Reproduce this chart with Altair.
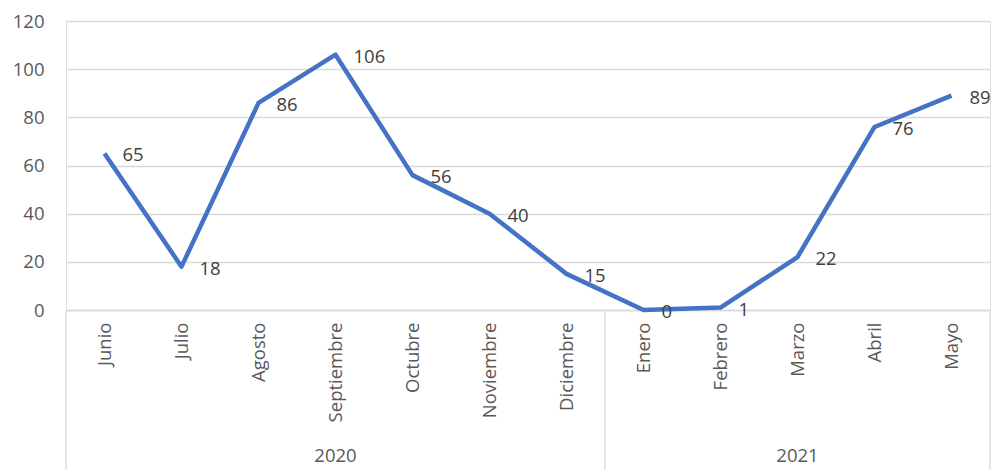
import altair as alt
import pandas as pd

months = ["Junio", "Julio", "Agosto", "Septiembre", "Octubre", "Noviembre",
          "Diciembre", "Enero", "Febrero", "Marzo", "Abril", "Mayo"]
values = [65, 18, 86, 106, 56, 40, 15, 0, 1, 22, 76, 89]
years = ["2020", "2021"]
year_counts = [7, 5]

df = pd.DataFrame({"mes": months, "valor": values})

# group boundaries and centers derived from counts
bounds = [0]
for c in year_counts:
    bounds.append(bounds[-1] + c)
centers = [(bounds[i] + bounds[i + 1]) / 2 for i in range(len(years))]
df_bounds = pd.DataFrame({"b": bounds})
df_years = pd.DataFrame({"anio": years, "c": centers})

FONT = "Open Sans"
W, H = 924, 289
TOP = 13
BOTTOM = 160

x = alt.X("mes:N", sort=months,
          scale=alt.Scale(type="point", padding=0.5),
          axis=alt.Axis(title=None, labelAngle=-90, labelAlign="right",
                        labelBaseline="middle", labelPadding=12,
                        ticks=False, grid=False, domain=True,
                        domainColor="#d9d9d9", domainWidth=1.3,
                        labelFont=FONT, labelFontSize=18.5, labelColor="#595959"))
y = alt.Y("valor:Q",
          scale=alt.Scale(domain=[0, 120], nice=False),
          axis=alt.Axis(title=None, values=[0, 20, 40, 60, 80, 100, 120],
                        domain=False, ticks=False, labelPadding=22,
                        gridColor="#d9d9d9", gridWidth=1.3,
                        labelFont=FONT, labelFontSize=18.5, labelColor="#595959"))

line = alt.Chart(df).mark_line(color="#4472C4", strokeWidth=4.5,
                               strokeJoin="round", strokeCap="butt").encode(x=x, y=y)
labels = alt.Chart(df).mark_text(align="left", baseline="middle", dx=18, dy=2,
                                 font=FONT, fontSize=18.5, color="#404040").encode(
    x=alt.X("mes:N", sort=months), y="valor:Q", text="valor:Q")

xq = alt.X("b:Q", scale=alt.Scale(domain=[0, sum(year_counts)], nice=False), axis=None)
seps = alt.Chart(df_bounds).mark_rule(color="#d9d9d9", strokeWidth=1.3).encode(
    x=xq, y=alt.value(H), y2=alt.value(H + BOTTOM))
year_text = alt.Chart(df_years).mark_text(baseline="middle", font=FONT, fontSize=18.5,
                                          color="#595959").encode(
    x=alt.X("c:Q", scale=alt.Scale(domain=[0, sum(year_counts)], nice=False), axis=None),
    y=alt.value(H + 146), text="anio:N")

top = alt.layer(line, labels)
bottom = alt.layer(seps, year_text)

chart = alt.layer(top, bottom).resolve_scale(x="independent").properties(
    width=W, height=H,
    autosize=alt.AutoSizeParams(type="none"),
    padding={"left": 58, "top": TOP, "right": 4, "bottom": BOTTOM},
).configure_view(stroke=None).configure(background="white")

chart.save("out.html", embed_options={"renderer": "svg", "actions": False})
